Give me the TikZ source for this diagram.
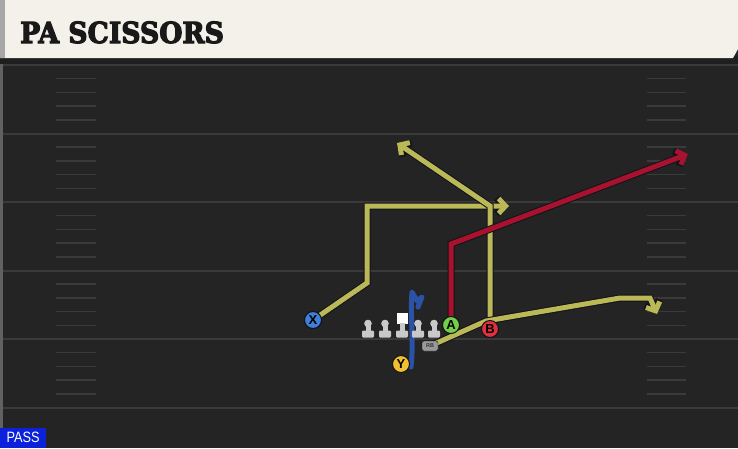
\documentclass[tikz,border=0pt]{standalone}
\usepackage{fontspec}
\usepackage{graphicx}
\usetikzlibrary{arrows.meta,calc}
\newfontfamily\titlefont{DejaVu Serif}[UprightFeatures={FakeBold=4},BoldFeatures={FakeBold=4}]
\newfontfamily\labfont{Liberation Sans}
\definecolor{fieldbg}{HTML}{242424}
\definecolor{headbg}{HTML}{F4F1EA}
\definecolor{yardln}{HTML}{3A3A3A}
\definecolor{routey}{HTML}{BAB857}
\definecolor{router}{HTML}{A8122F}
\definecolor{routeb}{HTML}{2A52A6}
\definecolor{outl}{HTML}{12121A}
\definecolor{pX}{HTML}{3E7FD8}
\definecolor{pY}{HTML}{F0C02E}
\definecolor{pA}{HTML}{72D148}
\definecolor{pB}{HTML}{E0303C}
\definecolor{lineman}{HTML}{C9C9C9}
\definecolor{passblue}{HTML}{0B22DA}
\tikzset{
  player/.style={circle,draw=outl,line width=1pt,minimum size=17pt,inner sep=0pt,
    font=\labfont\bfseries\fontsize{13}{13}\selectfont,text=black},
  routeout/.style={draw=outl,line width=7pt,-{Straight Barb[length=7.5pt,width=16pt]}},
  routein/.style={line width=5pt,-{Straight Barb[length=7pt,width=15pt]}},
  hashmark/.style={draw=yardln,line width=1.5pt},
  yardline/.style={draw=yardln,line width=2pt},
  rbbox/.style={draw=outl,fill=black!40,rounded corners=2pt,minimum width=16pt,minimum height=10pt,inner sep=0pt,
    font=\labfont\bfseries\fontsize{5.5}{5.5}\selectfont,text=black!80},
}
\begin{document}
\begin{tikzpicture}[x=1pt,y=-1pt]
\useasboundingbox (0,0) rectangle (738,448);
% field
\fill[fieldbg] (0,0) rectangle (738,448);
\fill[black!88] (0,56) rectangle (738,64);
\fill[black!62] (0,64) rectangle (2.5,448);
\foreach \k in {0,...,5}{
  \draw[yardline] (2.5,{65+68.5*\k}) -- (738,{65+68.5*\k});
}
\foreach \k in {0,...,4}{
  \foreach \j in {1,...,4}{
    \draw[hashmark] (56,{65+68.5*\k+13.7*\j}) -- (96,{65+68.5*\k+13.7*\j});
    \draw[hashmark] (647,{65+68.5*\k+13.7*\j}) -- (686,{65+68.5*\k+13.7*\j});
  }
}
% header
\fill[headbg] (0,0) -- (738,0) -- (738,49) -- (733,58) -- (0,58) -- cycle;
\fill[black!35] (0,0) rectangle (5,58);
\node[anchor=base west,inner sep=0pt,text=black!90,font=\titlefont\bfseries\fontsize{29}{30}\selectfont] (title) at (20,43) {\scalebox{0.92}[1]{PA SCISSORS}};
% pass tag
\node[fill=passblue,text=white,anchor=south west,minimum width=46pt,minimum height=20pt,inner sep=0pt,
  font=\labfont\fontsize{15}{15}\selectfont] (pass) at (0,448) {\scalebox{0.85}[1]{PASS}};
% players
\node[player,fill=pX] (X) at (313,320) {X};
\node[player,fill=pY] (Y) at (401,364) {Y};
\node[player,fill=pA] (A) at (451,325) {A};
\node[player,fill=pB] (B) at (490,329) {B};
\node[rbbox] (RB) at (430,346) {RB};
% route end points
\coordinate (x1) at (367,283);
\coordinate (x2) at (367,206);
\coordinate (xe) at (509,206);
\coordinate (b1) at (490,206);
\coordinate (be) at (397,143);
\coordinate (a1) at (451,244);
\coordinate (ae) at (688,154);
\coordinate (r1) at (486,321);
\coordinate (r2) at (620,298);
\coordinate (r3) at (650,298);
\coordinate (re) at (657,314);
% routes (outline then colour)
\draw[routeout] (X.center) -- (x1) -- (x2) -- (xe);
\draw[routein,routey] (X.center) -- (x1) -- (x2) -- (xe);
\draw[routeout] (B.center) -- (b1) -- (be);
\draw[routein,routey] (B.center) -- (b1) -- (be);
\draw[routeout] (RB.center) -- (r1) -- (r2) -- (r3) -- (re);
\draw[routein,routey] (RB.center) -- (r1) -- (r2) -- (r3) -- (re);
\draw[routeout] (A.center) -- (a1) -- (ae);
\draw[routein,router] (A.center) -- (a1) -- (ae);
% Y block path (blue)
\coordinate (y1) at (412,292);
\draw[routeb,line width=5pt,line join=round,line cap=round]
  (411,367) .. controls (414,340) and (410,315) .. (y1) -- (417,301) -- (422,297) -- (418,307);
% offensive line
\foreach \xx in {368,385,418,434}{
  \fill[lineman] (\xx,323.5) circle (3.8pt);
  \fill[lineman] (\xx-2.5,324) rectangle (\xx+2.5,331);
  \fill[lineman,rounded corners=1.2pt] (\xx-6,330.5) rectangle (\xx+6,337.5);
}
\fill[white] (396.5,313) rectangle (407.5,324);
\fill[lineman] (399.5,323) rectangle (404.5,331);
\fill[lineman,rounded corners=1.2pt] (396,330.5) rectangle (408,337.5);
% players on top
\node[player,fill=pX] at (X) {X};
\node[player,fill=pY] at (Y) {Y};
\node[player,fill=pA] at (A) {A};
\node[player,fill=pB] at (B) {B};
\node[rbbox] at (RB) {RB};
\end{tikzpicture}
\end{document}
